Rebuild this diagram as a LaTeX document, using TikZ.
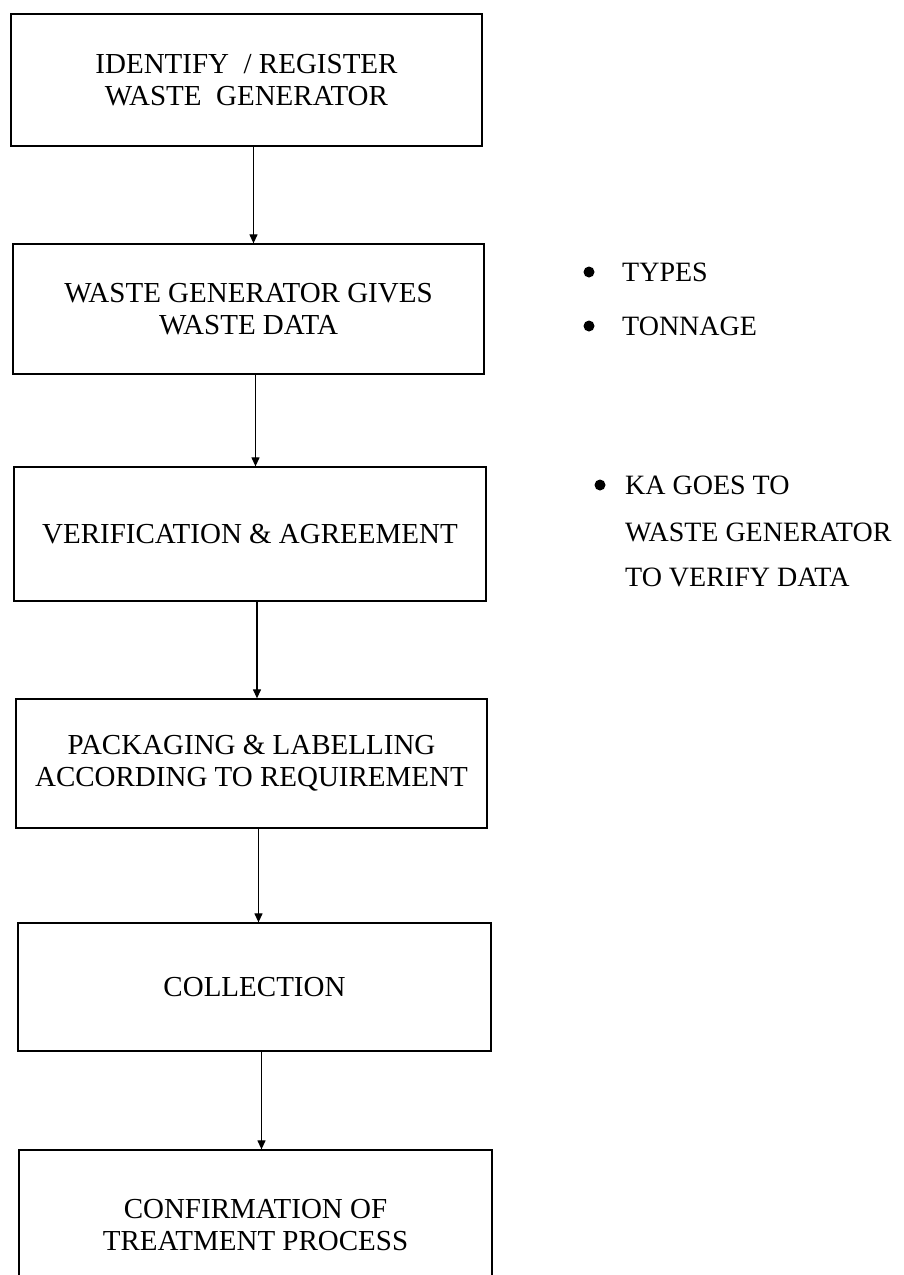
\documentclass[tikz,border=0pt]{standalone}
\usepackage{fontspec}
\setmainfont{Liberation Serif}
\usetikzlibrary{arrows.meta}
\tikzset{
  stepbox/.style={draw, line width=1.3pt, inner sep=0pt, align=center,
    font=\fontsize{29}{32}\selectfont},
  side/.style={inner sep=0pt, font=\fontsize{28}{31}\selectfont},
  arr/.style={line width=1.2pt, -{Triangle[length=9pt,width=8pt]}}
}
\begin{document}
\begin{tikzpicture}[x=1pt,y=-1pt]
\useasboundingbox (0,0) rectangle (904,1275);
\begin{scope}
\clip (0,0) rectangle (904,1275);
\node[stepbox, minimum width=471pt, minimum height=132pt] (b1) at (246.5,80)
  {IDENTIFY\ \ / REGISTER\\WASTE\ \ GENERATOR};
\node[stepbox, minimum width=471pt, minimum height=130pt] (b2) at (248.5,309)
  {WASTE GENERATOR GIVES\\WASTE DATA};
\node[stepbox, minimum width=472pt, minimum height=134pt] (b3) at (250,534)
  {VERIFICATION \& AGREEMENT};
\node[stepbox, minimum width=471pt, minimum height=129pt] (b4) at (251.5,763.5)
  {PACKAGING \& LABELLING\\ACCORDING TO REQUIREMENT};
\node[stepbox, minimum width=473pt, minimum height=128pt] (b5) at (254.5,987)
  {COLLECTION};
\node[stepbox, minimum width=473pt, minimum height=150pt] (b6) at (255.5,1225)
  {CONFIRMATION OF\\TREATMENT PROCESS};
\end{scope}

\draw[arr] ([xshift=7pt]b1.south) -- ([xshift=7pt]b1.south |- b2.north);
\draw[arr] ([xshift=7pt]b2.south) -- ([xshift=7pt]b2.south |- b3.north);
\draw[arr] ([xshift=7pt]b3.south) -- ([xshift=7pt]b3.south |- b4.north);
\draw[arr] ([xshift=7pt]b4.south) -- ([xshift=7pt]b4.south |- b5.north);
\draw[arr] ([xshift=7pt]b5.south) -- ([xshift=7pt]b5.south |- b6.north);

\fill (589,272) circle (5.5);
\node[side, anchor=base west] (t1) at (622,281.5) {TYPES};
\fill (589,326) circle (5.5);
\node[side, anchor=base west] (t2) at (622,335.5) {TONNAGE};

\fill (600,485) circle (5.5);
\node[side, anchor=base west] (k1) at (625,494) {KA GOES TO};
\node[side, anchor=base west] (k2) at (625,541) {WASTE GENERATOR};
\node[side, anchor=base west] (k3) at (625,586) {TO VERIFY DATA};
\end{tikzpicture}
\end{document}
